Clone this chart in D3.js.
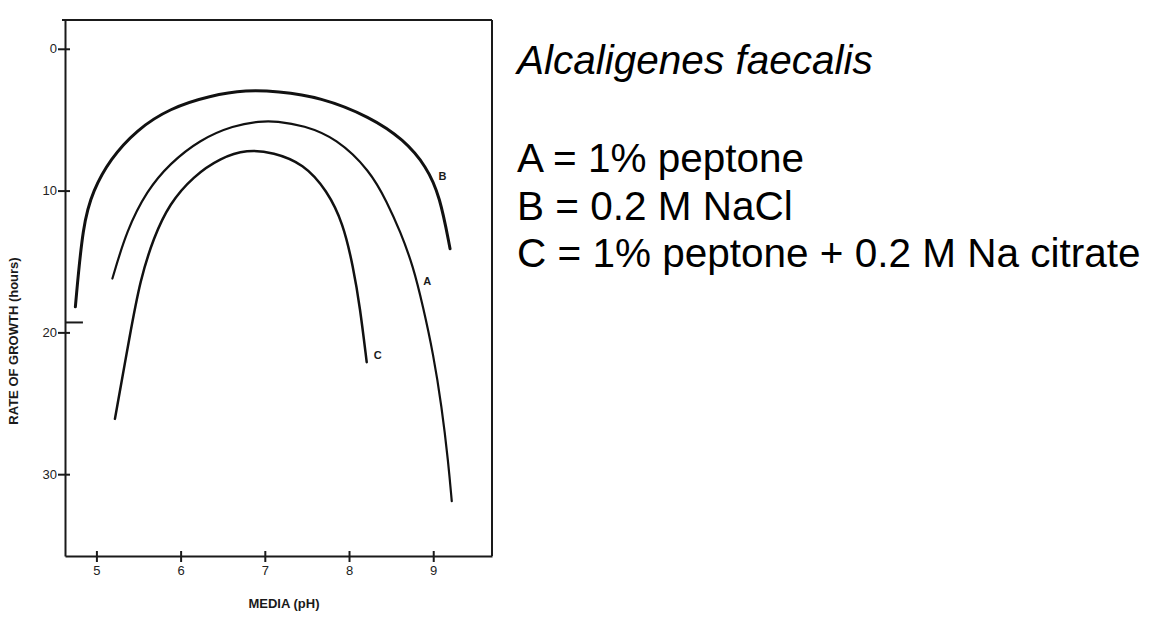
<!DOCTYPE html>
<meta charset="utf-8">
<head>
  <title>Alcaligenes faecalis growth vs pH</title>
</head>
<style>
    body {
        margin: 0;
        background-color: #fff;
    }
    svg text {
        fill: #1a1a1a;
    }
    .axis path, .axis line, .frame {
        stroke: #1a1a1a;
        stroke-width: 2px;
        fill: none;
    }
    .curve {
        fill: none;
        stroke: #111;
        stroke-linecap: round;
    }
    .axis-title, .curve-label {
        font-family: "Liberation Sans", Arial, sans-serif;
        font-weight: bold;
    }
    .legend {
        font-family: "Liberation Sans", Arial, sans-serif;
        font-size: 40.5px;
        fill: #000;
    }
</style>
<body>
    <svg id="chart" width="1154" height="632"></svg>

    <script src="https://cdn.jsdelivr.net/npm/d3@7"></script>

    <script>
        // curve A = 1% peptone
        var phA   = [5.19, 5.36, 5.60, 5.87, 6.23, 6.63, 6.94, 7.14, 7.46, 7.85, 8.25, 8.45, 8.61, 8.76, 8.88, 9.00, 9.10, 9.18, 9.22];
        var rateA = [16.2, 12.8, 10.0, 8.1, 6.4, 5.4, 5.1, 5.1, 5.4, 6.3, 8.6, 10.8, 12.9, 15.3, 18.2, 21.5, 25.2, 29.2, 31.9];
        // curve B = 0.2 M NaCl
        var phB   = [4.75, 4.84, 4.96, 5.16, 5.48, 5.87, 6.35, 6.79, 7.14, 7.66, 8.25, 8.65, 8.92, 9.08, 9.20];
        var rateB = [18.2, 12.3, 10.0, 7.8, 5.7, 4.2, 3.3, 2.9, 3.0, 3.4, 4.8, 6.4, 8.3, 10.4, 14.1];
        // curve C = 1% peptone + 0.2 M Na citrate
        var phC   = [5.22, 5.40, 5.52, 5.68, 5.87, 6.15, 6.47, 6.79, 7.10, 7.46, 7.74, 7.93, 8.05, 8.13, 8.21];
        var rateC = [26.1, 20.1, 16.3, 13.3, 10.9, 9.0, 7.7, 7.1, 7.3, 8.1, 10.0, 12.3, 15.4, 18.2, 22.1];

        var curveNames = ["A", "B", "C"];
        var labelPh    = [8.93, 9.11, 8.34];
        var labelRate  = [16.4, 8.97, 21.6];

        var xTicks = [5, 6, 7, 8, 9];
        var yTicks = [0, 10, 20, 30];
        var markLevel = [19.3];   // the short stray bar on the axis in the original

        var title = "Alcaligenes faecalis";
        var legendLines = ["A = 1% peptone", "B = 0.2 M NaCl", "C = 1% peptone + 0.2 M Na citrate"];

        var svg = d3.select("#chart");

        var x = d3.scaleLinear().domain([4.627, 9.698]).range([65, 492]);
        var y = d3.scaleLinear().domain([-2.03, 35.77]).range([20, 556]);

        // frame: top and right edges
        svg.append("line").attr("class", "frame")
            .attr("x1", x.range()[0] - 3).attr("x2", x.range()[1])
            .attr("y1", y.range()[0]).attr("y2", y.range()[0]);
        svg.append("line").attr("class", "frame")
            .attr("x1", x.range()[1]).attr("x2", x.range()[1])
            .attr("y1", y.range()[0]).attr("y2", y.range()[1]);

        var yAxis = svg.append("g")
            .attr("class", "axis")
            .attr("transform", "translate(" + x.range()[0] + ",0)")
            .call(d3.axisLeft(y).tickValues(yTicks).tickFormat(d3.format("d"))
                .tickSize(7).tickSizeOuter(0).tickPadding(1));
        yAxis.selectAll(".tick line").attr("x1", 5);

        var xAxis = svg.append("g")
            .attr("class", "axis")
            .attr("transform", "translate(0," + y.range()[1] + ")")
            .call(d3.axisBottom(x).tickValues(xTicks).tickFormat(d3.format("d"))
                .tickSize(6).tickSizeOuter(0).tickPadding(4));
        xAxis.selectAll(".tick line").attr("y1", -5);

        svg.selectAll(".axis").attr("font-size", 13);
        svg.selectAll(".axis text")
            .style("font-family", "'Liberation Sans', Arial, sans-serif")
            .style("font-size", "13px")
            .style("fill", "#222");

        svg.selectAll("line.mark")
            .data(markLevel)
            .enter()
            .append("line")
            .attr("class", "frame mark")
            .attr("x1", x(4.627)).attr("x2", x(4.84))
            .attr("y1", function(d) { return y(d); })
            .attr("y2", function(d) { return y(d); });

        var series = [
            { name: "A", ph: phA, rate: rateA, width: 2.2 },
            { name: "B", ph: phB, rate: rateB, width: 3 },
            { name: "C", ph: phC, rate: rateC, width: 2.5 }
        ];

        var line = d3.line()
            .x(function(d) { return x(d[0]); })
            .y(function(d) { return y(d[1]); })
            .curve(d3.curveBasis);

        svg.selectAll("path.curve")
            .data(series)
            .enter()
            .append("path")
            .attr("class", "curve")
            .attr("stroke-width", function(d) { return d.width; })
            .attr("d", function(d) { return line(d3.zip(d.ph, d.rate)); });

        svg.selectAll("text.curve-label")
            .data(curveNames)
            .enter()
            .append("text")
            .attr("class", "curve-label")
            .attr("x", function(d, i) { return x(labelPh[i]); })
            .attr("y", function(d, i) { return y(labelRate[i]); })
            .attr("dy", "0.36em")
            .attr("text-anchor", "middle")
            .style("font-size", "11px")
            .text(function(d) { return d; });

        // axis titles
        svg.append("text")
            .attr("class", "axis-title")
            .attr("transform", "translate(18,341) rotate(-90)")
            .attr("text-anchor", "middle")
            .style("font-size", "13px")
            .text("RATE OF GROWTH (hours)");

        svg.append("text")
            .attr("class", "axis-title")
            .attr("x", 284)
            .attr("y", 608)
            .attr("text-anchor", "middle")
            .style("font-size", "13px")
            .text("MEDIA (pH)");

        // title and legend
        svg.append("text")
            .attr("class", "legend")
            .attr("x", 517)
            .attr("y", 74)
            .style("font-style", "italic")
            .text(title);

        svg.selectAll("text.legend-line")
            .data(legendLines)
            .enter()
            .append("text")
            .attr("class", "legend legend-line")
            .attr("x", 517)
            .attr("y", function(d, i) { return 172 + i * 47.5; })
            .text(function(d) { return d; });
    </script>
</body>
